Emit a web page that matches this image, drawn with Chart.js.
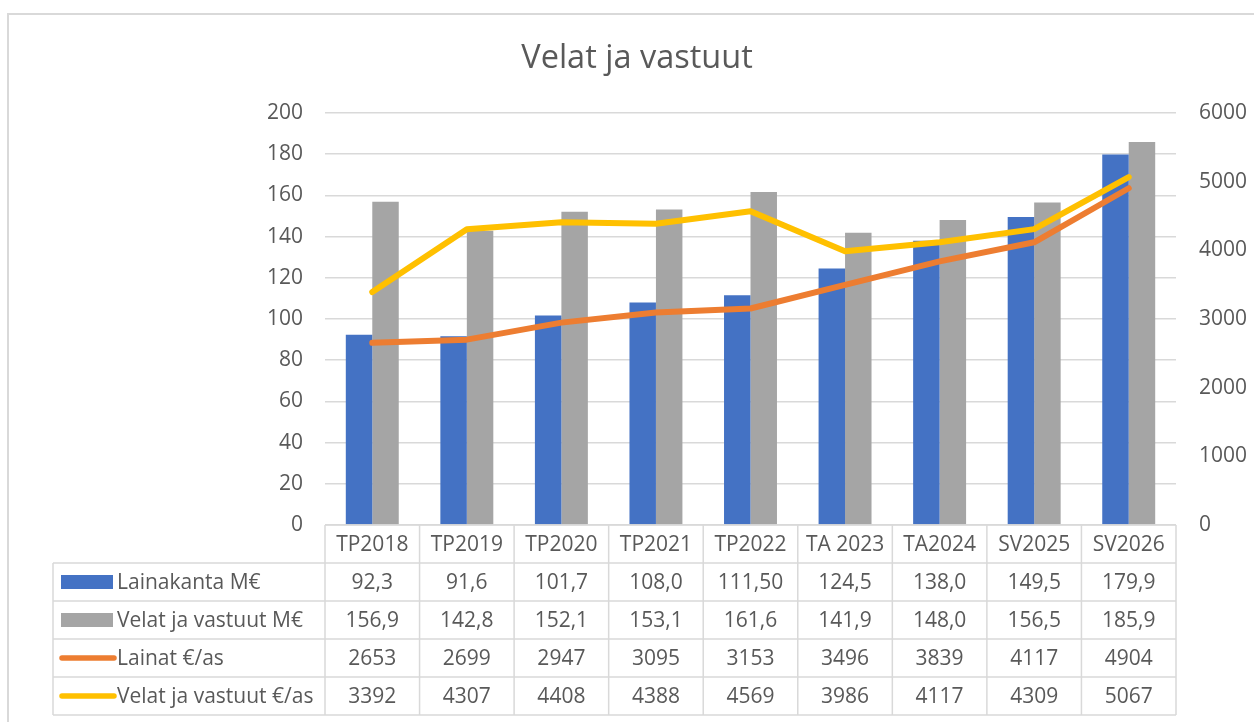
<!DOCTYPE html>
<html>
<head>
<meta charset="utf-8">
<style>
  body { margin: 0; background: #fff; }
  #c { display: block; }
</style>
</head>
<body>
<canvas id="c" width="1254" height="722"></canvas>
<script src="https://cdn.jsdelivr.net/npm/chart.js"></script>
<script>
  const categories = ["TP2018", "TP2019", "TP2020", "TP2021", "TP2022", "TA 2023", "TA2024", "SV2025", "SV2026"];
  const lainakanta = [92.3, 91.6, 101.7, 108.0, 111.5, 124.5, 138.0, 149.5, 179.9];
  const lainakantaDecimals = [1, 1, 1, 1, 2, 1, 1, 1, 1];
  const velatMe = [156.9, 142.8, 152.1, 153.1, 161.6, 141.9, 148.0, 156.5, 185.9];
  const lainatAs = [2653, 2699, 2947, 3095, 3153, 3496, 3839, 4117, 4904];
  const velatAs = [3392, 4307, 4408, 4388, 4569, 3986, 4117, 4309, 5067];
  const leftTicks = [0, 20, 40, 60, 80, 100, 120, 140, 160, 180, 200];
  const rightTicks = [0, 1000, 2000, 3000, 4000, 5000, 6000];

  const FONT = '"Open Sans", sans-serif';
  const TEXT = "#595959";
  const LINE = "#d9d9d9";

  const fmt = (v, d) => v.toFixed(d).replace(".", ",");

  const tableRows = [
    { label: "Lainakanta M€", kind: "bar", color: "#4472C4", text: lainakanta.map((v, i) => fmt(v, lainakantaDecimals[i])) },
    { label: "Velat ja vastuut M€", kind: "bar", color: "#A5A5A5", text: velatMe.map(v => fmt(v, 1)) },
    { label: "Lainat €/as", kind: "line", color: "#ED7D31", text: lainatAs.map(String) },
    { label: "Velat ja vastuut €/as", kind: "line", color: "#FFC000", text: velatAs.map(String) }
  ];

  // frame, title and data table
  const extras = {
    id: "extras",
    beforeDraw(chart) {
      const ctx = chart.ctx;
      ctx.save();
      ctx.fillStyle = "#fff";
      ctx.fillRect(0, 0, chart.width, chart.height);
      ctx.strokeStyle = LINE;
      ctx.lineWidth = 2;
      ctx.strokeRect(8, 14, chart.width + 20, chart.height + 20);
      ctx.restore();
    },
    afterDraw(chart) {
      const ctx = chart.ctx;
      const area = chart.chartArea;
      const x = chart.scales.x;
      ctx.save();
      ctx.fillStyle = TEXT;
      ctx.font = "32.5px " + FONT;
      ctx.textAlign = "center";
      ctx.textBaseline = "middle";
      ctx.fillText("Velat ja vastuut", 637, 59);

      const rowH = 38;
      const top = area.bottom;
      const leftX = 53;
      const n = categories.length;
      const step = (area.right - area.left) / n;
      const bounds = [];
      for (let i = 0; i <= n; i++) bounds.push(area.left + i * step);
      const bottom = top + rowH * (tableRows.length + 1);

      ctx.strokeStyle = LINE;
      ctx.lineWidth = 1.5;
      ctx.beginPath();
      bounds.forEach(b => { ctx.moveTo(b, top); ctx.lineTo(b, bottom); });
      ctx.moveTo(area.left, top); ctx.lineTo(area.right, top);
      for (let r = 1; r <= tableRows.length + 1; r++) {
        ctx.moveTo(leftX, top + r * rowH); ctx.lineTo(area.right, top + r * rowH);
      }
      ctx.moveTo(leftX, top + rowH); ctx.lineTo(leftX, bottom);
      ctx.stroke();

      ctx.font = "21px " + FONT;
      ctx.fillStyle = TEXT;
      ctx.textAlign = "center";
      categories.forEach((c, i) => ctx.fillText(c, x.getPixelForValue(i), top + rowH / 2 + 1));

      tableRows.forEach((row, r) => {
        const cy = top + rowH * (r + 1) + rowH / 2;
        if (row.kind === "bar") {
          ctx.fillStyle = row.color;
          ctx.fillRect(61, cy - 7, 52, 14);
        } else {
          ctx.strokeStyle = row.color;
          ctx.lineWidth = 5.5;
          ctx.lineCap = "round";
          ctx.beginPath();
          ctx.moveTo(62, cy); ctx.lineTo(114, cy);
          ctx.stroke();
        }
        ctx.fillStyle = TEXT;
        ctx.textAlign = "left";
        ctx.fillText(row.label, 117, cy + 1);
        ctx.textAlign = "center";
        row.text.forEach((t, i) => ctx.fillText(t, x.getPixelForValue(i), cy + 1));
      });
      ctx.restore();
    }
  };

  new Chart(document.getElementById("c"), {
    data: {
      labels: categories,
      datasets: [
        { type: "line", label: "Lainat €/as", data: lainatAs, yAxisID: "y1", borderColor: "#ED7D31", borderWidth: 6, pointRadius: 0, borderCapStyle: "round", borderJoinStyle: "round", order: 0 },
        { type: "line", label: "Velat ja vastuut €/as", data: velatAs, yAxisID: "y1", borderColor: "#FFC000", borderWidth: 6, pointRadius: 0, borderCapStyle: "round", borderJoinStyle: "round", order: 0 },
        { type: "bar", label: "Lainakanta M€", data: lainakanta, yAxisID: "y", backgroundColor: "#4472C4", categoryPercentage: 0.56, barPercentage: 1, order: 1 },
        { type: "bar", label: "Velat ja vastuut M€", data: velatMe, yAxisID: "y", backgroundColor: "#A5A5A5", categoryPercentage: 0.56, barPercentage: 1, order: 1 }
      ]
    },
    options: {
      responsive: false,
      animation: false,
      layout: { padding: { top: 113, bottom: 197, left: 0, right: 0 } },
      plugins: { legend: { display: false }, tooltip: { enabled: false }, title: { display: false } },
      scales: {
        x: { display: false },
        y: {
          position: "left",
          min: 0, max: 200,
          afterBuildTicks: s => { s.ticks = leftTicks.map(v => ({ value: v })); },
          afterFit: s => { s.width = 325; },
          grid: { color: LINE, lineWidth: 1.5, drawTicks: false },
          border: { display: false },
          ticks: { color: TEXT, font: { family: FONT, size: 21 }, padding: 22, callback: v => String(v) }
        },
        y1: {
          position: "right",
          min: 0, max: 6000,
          afterBuildTicks: s => { s.ticks = rightTicks.map(v => ({ value: v })); },
          afterFit: s => { s.width = 78; },
          grid: { display: false, drawTicks: false },
          border: { display: false },
          ticks: { color: TEXT, font: { family: FONT, size: 21 }, padding: 23, callback: v => String(v) }
        }
      }
    },
    plugins: [extras]
  });
</script>
</body>
</html>
